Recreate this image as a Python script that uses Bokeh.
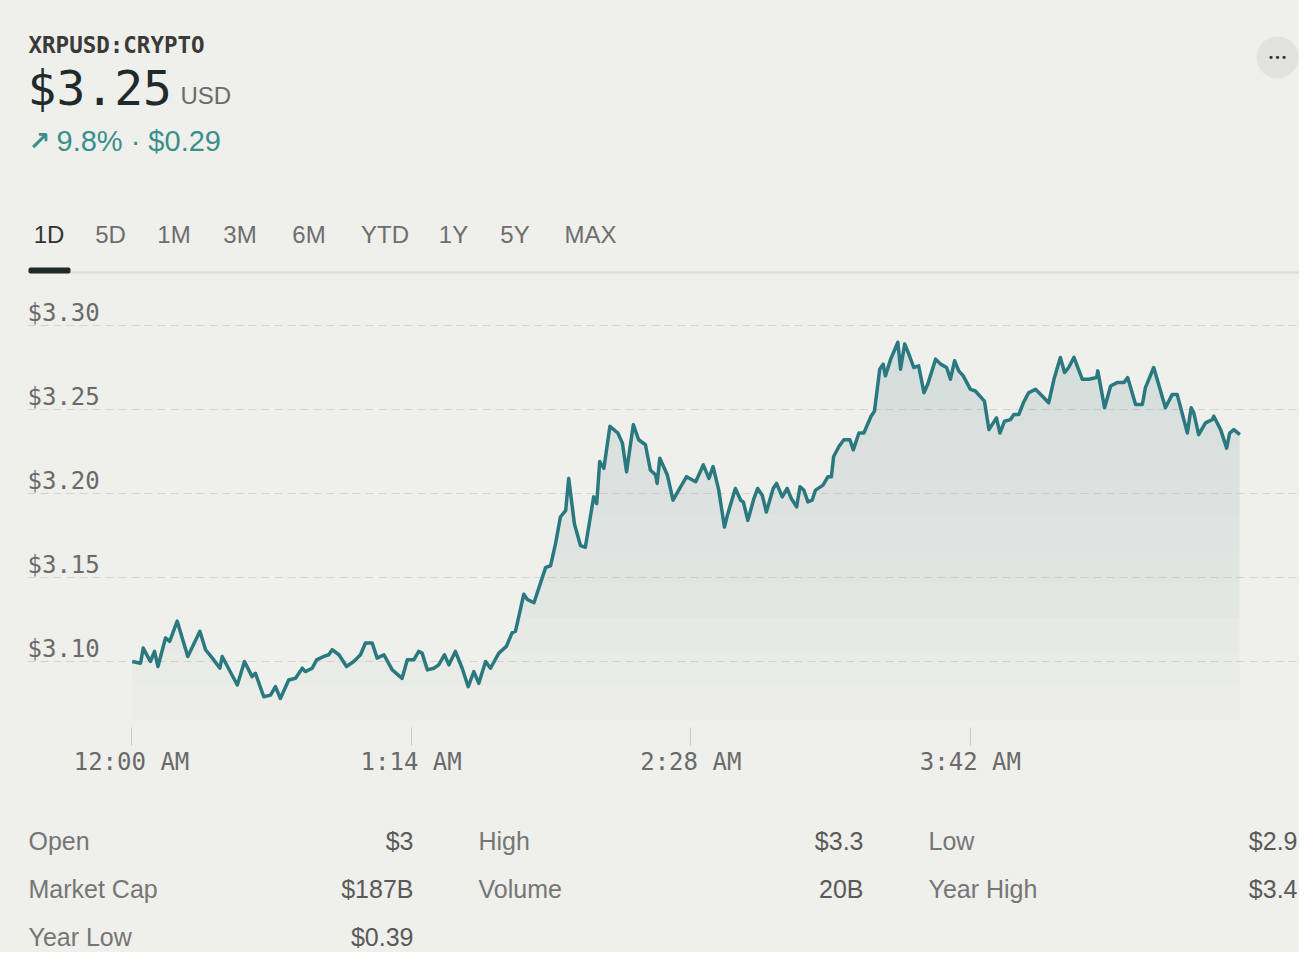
import numpy as np
from bokeh.plotting import figure
from bokeh.layouts import column
from bokeh.models import FixedTicker, Label, BoxAnnotation, Range1d
from bokeh.core.properties import value
from bokeh.embed import file_html
from bokeh.resources import INLINE

# ---------------- data ----------------
symbol = "XRPUSD:CRYPTO"
last_price = "$3.25"
currency = "USD"
change_arrow = "\u2197"
change_text = "9.8% \u00b7 $0.29"
tabs = ["1D", "5D", "1M", "3M", "6M", "YTD", "1Y", "5Y", "MAX"]

# minutes after 12:00 AM
minutes = [0.2, 2.4, 3.1, 5.0, 6.1, 7.0, 9.0, 10.1, 12.1, 14.9,
           18.1, 19.6, 21.4, 23.4, 24.0, 28.0, 29.9, 31.9, 32.8, 35.0,
           36.8, 38.1, 39.4, 41.6, 43.4, 45.2, 46.0, 47.8, 49.0, 50.9,
           52.2, 53.1, 54.9, 56.9, 58.8, 60.6, 61.9, 63.7, 65.0, 66.8,
           69.0, 71.6, 73.0, 74.7, 76.0, 76.9, 78.3, 80.0, 81.3, 82.8,
           84.0, 85.7, 87.5, 89.1, 90.6, 91.9, 93.7, 95.0, 97.2, 99.2,
           100.7, 101.6, 103.8, 104.7, 106.5, 109.6, 110.9, 112.2, 113.5, 114.9,
           115.7, 117.2, 118.8, 120.1, 122.3, 123.1, 123.9, 125.0, 126.6, 128.7,
           129.9, 131.0, 132.8, 134.2, 136.0, 137.3, 138.7, 139.1, 139.8, 141.8,
           143.3, 145.3, 146.9, 149.3, 151.3, 152.8, 153.9, 155.4, 156.9, 157.8,
           159.8, 161.2, 161.9, 163.1, 164.7, 165.7, 166.9, 168.0, 169.8, 170.7,
           172.2, 173.5, 174.6, 176.0, 176.9, 177.9, 179.0, 180.1, 181.0, 183.0,
           184.3, 185.2, 185.8, 187.2, 188.5, 190.1, 191.0, 192.5, 193.8, 195.7,
           196.6, 198.0, 198.9, 199.5, 200.9, 202.8, 203.5, 204.6, 205.7, 207.0,
           208.3, 209.7, 210.7, 212.8, 214.1, 215.7, 216.7, 217.8, 218.9, 220.1,
           222.0, 223.3, 225.7, 226.9, 228.9, 229.8, 231.0, 232.6, 233.5, 234.8,
           236.0, 237.4, 239.2, 241.0, 242.7, 244.1, 245.8, 246.9, 248.0, 249.4,
           251.6, 253.3, 255.4, 255.7, 257.5, 259.1, 260.8, 262.6, 263.6, 265.7,
           267.5, 268.3, 270.5, 273.6, 275.4, 276.7, 279.4, 280.4, 281.1, 282.4,
           284.2, 286.0, 286.4, 288.2, 289.8, 290.6, 291.7, 293.3]

prices = [3.100, 3.099, 3.108, 3.100, 3.106, 3.097, 3.114, 3.112, 3.124, 3.103,
          3.118, 3.107, 3.102, 3.096, 3.103, 3.086, 3.100, 3.091, 3.093, 3.079,
          3.080, 3.085, 3.078, 3.089, 3.090, 3.096, 3.094, 3.096, 3.101, 3.103,
          3.104, 3.107, 3.104, 3.097, 3.100, 3.104, 3.111, 3.111, 3.102, 3.104,
          3.095, 3.090, 3.101, 3.101, 3.106, 3.105, 3.095, 3.096, 3.098, 3.104,
          3.098, 3.106, 3.096, 3.085, 3.094, 3.087, 3.100, 3.096, 3.105, 3.109,
          3.117, 3.118, 3.140, 3.137, 3.135, 3.156, 3.157, 3.170, 3.186, 3.190,
          3.209, 3.182, 3.169, 3.168, 3.198, 3.194, 3.219, 3.215, 3.240, 3.236,
          3.230, 3.213, 3.241, 3.232, 3.229, 3.214, 3.211, 3.206, 3.221, 3.211,
          3.196, 3.204, 3.210, 3.207, 3.217, 3.209, 3.216, 3.202, 3.180, 3.188,
          3.203, 3.196, 3.195, 3.184, 3.197, 3.203, 3.199, 3.189, 3.203, 3.206,
          3.198, 3.203, 3.197, 3.192, 3.204, 3.202, 3.195, 3.196, 3.202, 3.205,
          3.210, 3.210, 3.222, 3.228, 3.232, 3.232, 3.226, 3.236, 3.236, 3.246,
          3.249, 3.274, 3.277, 3.270, 3.280, 3.290, 3.274, 3.289, 3.283, 3.275,
          3.276, 3.260, 3.265, 3.280, 3.277, 3.275, 3.268, 3.279, 3.273, 3.270,
          3.262, 3.261, 3.255, 3.238, 3.245, 3.236, 3.243, 3.244, 3.247, 3.247,
          3.254, 3.260, 3.262, 3.258, 3.254, 3.268, 3.281, 3.272, 3.275, 3.281,
          3.268, 3.268, 3.269, 3.273, 3.251, 3.264, 3.266, 3.266, 3.269, 3.253,
          3.253, 3.263, 3.275, 3.251, 3.259, 3.259, 3.236, 3.251, 3.248, 3.235,
          3.242, 3.244, 3.246, 3.238, 3.227, 3.236, 3.238, 3.235]

y_ticks = [3.10, 3.15, 3.20, 3.25, 3.30]
y_tick_labels = ["$3.10", "$3.15", "$3.20", "$3.25", "$3.30"]
x_ticks = [0, 74, 148, 222]
x_tick_labels = ["12:00 AM", "1:14 AM", "2:28 AM", "3:42 AM"]

stat_labels = [["Open", "High", "Low"],
               ["Market Cap", "Volume", "Year High"],
               ["Year Low"]]
stat_values = [["$3", "$3.3", "$2.9"],
               ["$187B", "20B", "$3.4"],
               ["$0.39"]]

# ---------------- style ----------------
BG = "#efefeb"
LINE = "#2a7980"
FILL = "#9fbfc2"
TEAL = "#3a8f8d"
MONO = "DejaVu Sans Mono"
SANS = "Liberation Sans"
W = 1299
LEFT = 27          # left edge of the chart frame (canvas px)
BGSTYLE = {"background-color": BG}


def panel(h):
    # frame is aligned with the chart frame (canvas x 27..1299), so data x = canvas x
    f = figure(width=W, height=h, output_backend="svg", toolbar_location=None,
               x_range=Range1d(LEFT, W), y_range=Range1d(h, 0),
               x_axis_location=None, y_axis_location=None,
               min_border=0, min_border_left=LEFT, min_border_right=0,
               min_border_top=0, min_border_bottom=0,
               background_fill_color=BG, border_fill_color=BG,
               outline_line_color=None, styles=BGSTYLE)
    f.xgrid.visible = False
    f.ygrid.visible = False
    return f


def lab(f, top, rx, ry, text, font, size, color, align="left", style="normal"):
    # ry = visual vertical centre of the text in canvas px
    f.add_layout(Label(x=rx, y=ry - top, text=text, text_font=font,
                       text_font_size=size, text_color=color, text_align=align,
                       text_baseline="alphabetic", text_font_style=style))


def box(f, top, rl, rr, rt, rb, color, radius=0):
    f.add_layout(BoxAnnotation(left=rl, right=rr, top=rt - top, bottom=rb - top,
                               fill_color=color, fill_alpha=1.0, line_color=None,
                               border_radius=radius))


# ---------------- header panel (y 0..285) ----------------
HEAD_H = 285
head = panel(HEAD_H)
lab(head, 0, 28, 44, symbol, MONO, "22.5px", "#3a3a3a", style="bold")
lab(head, 0, 27, 87, last_price, MONO, "48px", "#1f2b2b")
lab(head, 0, 180, 95, currency, SANS, "24px", "#6b6b6b")
lab(head, 0, 28, 140, change_arrow, "DejaVu Sans", "26px", TEAL, style="bold")
lab(head, 0, 56, 140, change_text, SANS, "29px", TEAL)

box(head, 0, 1256, 1298, 36, 78, "#e2e3df", radius=21)
head.add_layout(Label(x=1277, y=57, text="\u2022\u2022\u2022", text_font="DejaVu Sans",
                      text_font_size="11px", text_color="#333333",
                      text_align="center", text_baseline="middle"))

tab_centers = [48.5, 110, 173.5, 239.5, 308.5, 384.5, 453, 514.5, 590]
for i, (t, cx) in enumerate(zip(tabs, tab_centers)):
    lab(head, 0, cx, 234, t, SANS, "24px", "#333333" if i == 0 else "#6e6e6e",
        align="center")
box(head, 0, 28, W, 271, 273, "#dcdcd8")
box(head, 0, 28, 70, 267, 273, "#1e2b2b", radius=2)

# ---------------- chart panel (y 285..800) ----------------
CH_TOP = 285
CH_H = 515
px_per_min = 3.779
x_lo = -(131 - LEFT) / px_per_min
x_hi = (W - 131) / px_per_min
px_per_usd = 1680.0
y_hi = 3.30 + (325 - 300) / px_per_usd
y_lo = 3.30 - (727 - 325) / px_per_usd

p = figure(width=W, height=CH_H, output_backend="svg", toolbar_location=None,
           x_range=Range1d(x_lo, x_hi), y_range=Range1d(y_lo, y_hi),
           y_axis_location=None,
           min_border_left=LEFT, min_border_right=0,
           min_border_top=300 - CH_TOP, min_border_bottom=CH_TOP + CH_H - 727,
           background_fill_color=BG, border_fill_color=BG,
           outline_line_color=None, styles=BGSTYLE)

p.xgrid.visible = False
p.ygrid.ticker = FixedTicker(ticks=y_ticks)
p.ygrid.grid_line_color = "#d3d3cf"
p.ygrid.grid_line_dash = "8 5"
p.ygrid.grid_line_width = 1

p.xaxis.ticker = FixedTicker(ticks=x_ticks)
p.xaxis.major_label_overrides = {t: l for t, l in zip(x_ticks, x_tick_labels)}
p.xaxis.axis_line_color = None
p.xaxis.major_tick_line_color = "#c9c9c5"
p.xaxis.major_tick_in = 0
p.xaxis.major_tick_out = 18
p.xaxis.minor_tick_line_color = None
p.xaxis.major_label_standoff = 2
p.xaxis.major_label_text_font = MONO
p.xaxis.major_label_text_font_size = "24px"
p.xaxis.major_label_text_color = "#6a6a6a"

x_arr = np.array(minutes)
y_arr = np.array(prices)
levels = np.linspace(3.065, 3.29, 12)
for b in levels:
    p.varea(x=x_arr, y1=y_arr, y2=np.minimum(y_arr, b),
            fill_color=FILL, fill_alpha=0.034)

p.line(x_arr, y_arr, line_color=LINE, line_width=3.5, line_join="round")

p.text(x=[x_lo] * len(y_ticks), y=y_ticks, text=y_tick_labels,
       text_font=value(MONO), text_font_size=value("24px"),
       text_color="#6a6a6a", text_align="left", text_baseline="alphabetic",
       y_offset=-13)

# ---------------- stats panel (y 800..952) ----------------
ST_TOP = 800
ST_H = 952 - ST_TOP
stats = panel(ST_H)
row_centers = [840, 888, 936]
col_label_x = [28, 478, 928]
col_value_x = [413, 863, 1297]
for r, (labels_row, values_row) in enumerate(zip(stat_labels, stat_values)):
    for c, (l, v) in enumerate(zip(labels_row, values_row)):
        lab(stats, ST_TOP, col_label_x[c], row_centers[r], l, SANS, "25px", "#767676")
        lab(stats, ST_TOP, col_value_x[c], row_centers[r], v, SANS, "25px", "#5a5a5a",
            align="right")

layout = column(head, p, stats, spacing=0, styles=BGSTYLE)
open("out.html", "w").write(file_html(layout, INLINE))
